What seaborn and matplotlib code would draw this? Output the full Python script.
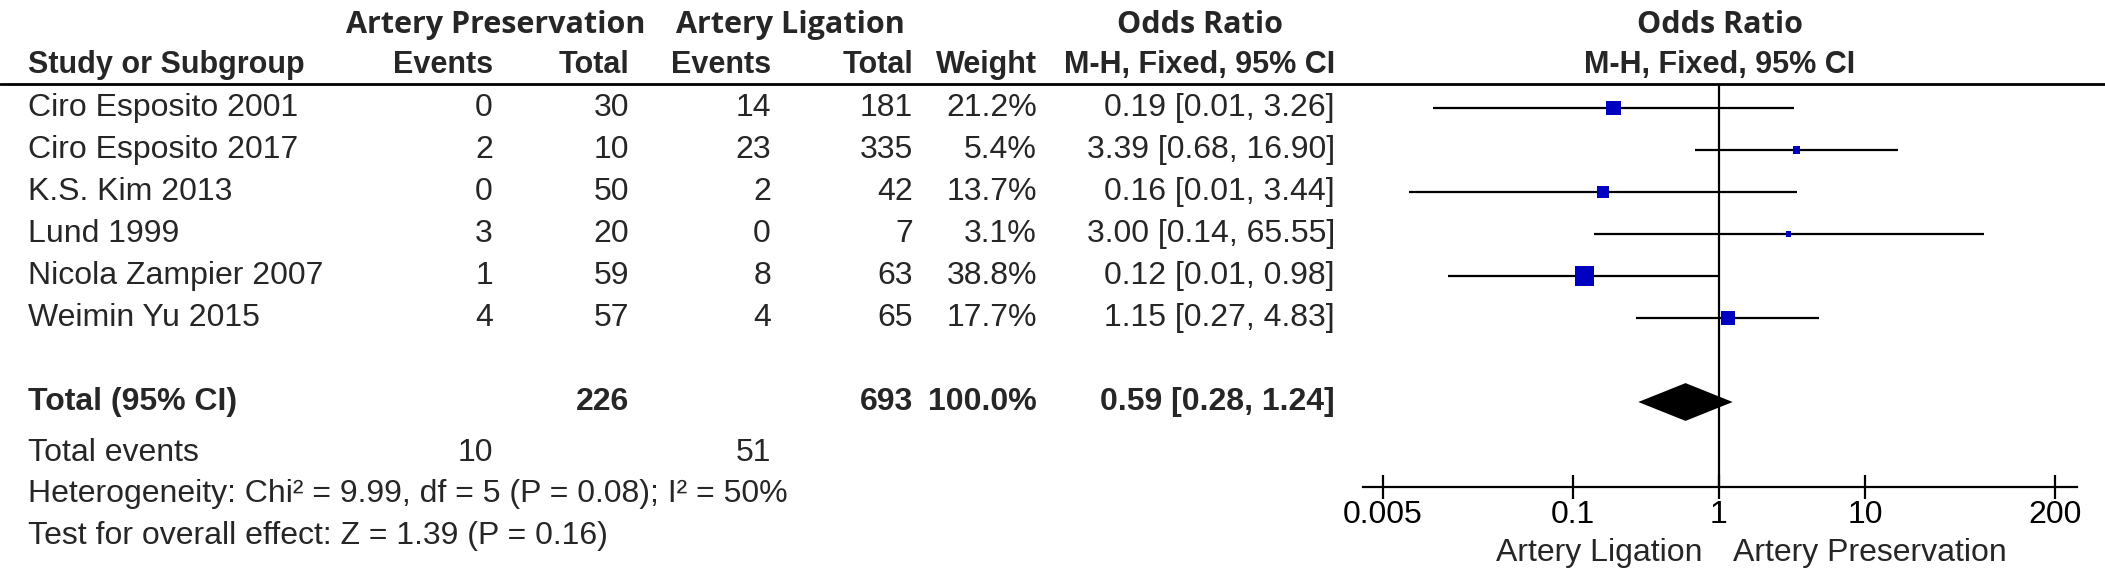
import matplotlib
matplotlib.use('Agg')  # no display
import numpy as np
import pandas as pd
import matplotlib.pyplot as plt
import seaborn as sns
from matplotlib.ticker import NullLocator, FixedLocator, FixedFormatter

# ======================
# DATA
# ======================
studies = ["Ciro Esposito 2001", "Ciro Esposito 2017", "K.S. Kim 2013",
           "Lund 1999", "Nicola Zampier 2007", "Weimin Yu 2015"]
pres_events = [0, 2, 0, 3, 1, 4]
pres_total = [30, 10, 50, 20, 59, 57]
lig_events = [14, 23, 2, 0, 8, 4]
lig_total = [181, 335, 42, 7, 63, 65]
weights = [21.2, 5.4, 13.7, 3.1, 38.8, 17.7]
odds = [0.19, 3.39, 0.16, 3.00, 0.12, 1.15]
ci_low = [0.011, 0.68, 0.0075, 0.14, 0.014, 0.27]
ci_high = [3.26, 16.90, 3.44, 65.55, 0.98, 4.83]

total_pres, total_lig = 226, 693
events_pres, events_lig = 10, 51
total_weight = 100.0
total_or, total_low, total_high = 0.59, 0.28, 1.24
heterogeneity = "Heterogeneity: Chi² = 9.99, df = 5 (P = 0.08); I² = 50%"
overall_test = "Test for overall effect: Z = 1.39 (P = 0.16)"

x_ticks = [0.005, 0.1, 1, 10, 200]
x_tick_labels = ["0.005", "0.1", "1", "10", "200"]
favours_left = "Artery Ligation"
favours_right = "Artery Preservation"

df = pd.DataFrame({"study": studies, "or": odds, "lo": ci_low, "hi": ci_high,
                   "w": weights, "row": np.arange(len(studies))})

# ======================
# STYLE
# ======================
sns.set_theme(style="white")
plt.rcParams['font.family'] = ['Liberation Sans', 'DejaVu Sans']
FS = 23
HFS = 22
BLUE = "#0000C0"
HEAD_FONT = ['Open Sans', 'DejaVu Sans']

W, H = 2105, 581
fig = plt.figure(figsize=(W / 100, H / 100), dpi=100)

# table layer in pixel coordinates
tab = fig.add_axes([0, 0, 1, 1])
tab.set_xlim(0, W)
tab.set_ylim(H, 0)
tab.axis('off')

row_y0, row_dy = 108, 42
header_y = 84
axis_y = 487
x_study, x_ev1, x_tot1, x_ev2, x_tot2, x_wt, x_ci = 28, 493, 629, 771, 913, 1037, 1335
forest_left, forest_right = 1363, 2077
tick_px_lo, tick_px_hi = 1383, 2055
x_one = 1720

# group headers
tab.text(496, 25, "Artery Preservation", ha='center', va='center', fontsize=HFS,
         fontweight='bold', family=HEAD_FONT)
tab.text(790, 25, "Artery Ligation", ha='center', va='center', fontsize=HFS,
         fontweight='bold', family=HEAD_FONT)
tab.text(1200, 25, "Odds Ratio", ha='center', va='center', fontsize=HFS,
         fontweight='bold', family=HEAD_FONT)
tab.text(x_one, 25, "Odds Ratio", ha='center', va='center', fontsize=HFS,
         fontweight='bold', family=HEAD_FONT)

# column headers
hy = 65
tab.text(x_study, hy, "Study or Subgroup", ha='left', va='center', fontsize=HFS, fontweight='bold')
for x, s in [(x_ev1, "Events"), (x_tot1, "Total"), (x_ev2, "Events"),
             (x_tot2, "Total"), (x_wt, "Weight")]:
    tab.text(x, hy, s, ha='right', va='center', fontsize=HFS, fontweight='bold')
tab.text(1200, hy, "M-H, Fixed, 95% CI", ha='center', va='center', fontsize=HFS, fontweight='bold')
tab.text(x_one, hy, "M-H, Fixed, 95% CI", ha='center', va='center', fontsize=HFS, fontweight='bold')
tab.axhline(header_y, color='black', lw=2)

# study rows
for i in range(len(studies)):
    y = row_y0 + row_dy * i
    tab.text(x_study, y, studies[i], ha='left', va='center', fontsize=FS)
    tab.text(x_ev1, y, str(pres_events[i]), ha='right', va='center', fontsize=FS)
    tab.text(x_tot1, y, str(pres_total[i]), ha='right', va='center', fontsize=FS)
    tab.text(x_ev2, y, str(lig_events[i]), ha='right', va='center', fontsize=FS)
    tab.text(x_tot2, y, str(lig_total[i]), ha='right', va='center', fontsize=FS)
    tab.text(x_wt, y, f"{weights[i]:.1f}%", ha='right', va='center', fontsize=FS)
    tab.text(x_ci, y, f"{odds[i]:.2f} [{ci_low[i]:.2f}, {ci_high[i]:.2f}]",
             ha='right', va='center', fontsize=FS)

# total row
total_row = 7
ty = row_y0 + row_dy * total_row
tab.text(x_study, ty, "Total (95% CI)", ha='left', va='center', fontsize=FS, fontweight='bold')
tab.text(x_tot1, ty, str(total_pres), ha='right', va='center', fontsize=FS, fontweight='bold')
tab.text(x_tot2, ty, str(total_lig), ha='right', va='center', fontsize=FS, fontweight='bold')
tab.text(x_wt, ty, f"{total_weight:.1f}%", ha='right', va='center', fontsize=FS, fontweight='bold')
tab.text(x_ci, ty, f"{total_or:.2f} [{total_low:.2f}, {total_high:.2f}]",
         ha='right', va='center', fontsize=FS, fontweight='bold')

tab.text(x_study, 453, "Total events", ha='left', va='center', fontsize=FS)
tab.text(x_ev1, 453, str(events_pres), ha='right', va='center', fontsize=FS)
tab.text(x_ev2, 453, str(events_lig), ha='right', va='center', fontsize=FS)
tab.text(x_study, 494, heterogeneity, ha='left', va='center', fontsize=FS)
tab.text(x_study, 536, overall_test, ha='left', va='center', fontsize=FS)

tab.text(x_one - 18, 553, favours_left, ha='right', va='center', fontsize=FS)
tab.text(x_one + 13, 553, favours_right, ha='left', va='center', fontsize=FS)

# ======================
# FOREST PLOT
# ======================
ax = fig.add_axes([forest_left / W, (H - axis_y) / H,
                   (forest_right - forest_left) / W, (axis_y - header_y) / H])
ax.patch.set_alpha(0)
ax.set_xscale('log')
px_per_dec = (tick_px_hi - tick_px_lo) / (np.log10(x_ticks[-1]) - np.log10(x_ticks[0]))
ax.set_xlim(10 ** (np.log10(x_ticks[0]) - (tick_px_lo - forest_left) / px_per_dec),
            10 ** (np.log10(x_ticks[-1]) + (forest_right - tick_px_hi) / px_per_dec))
ax.set_ylim((axis_y - row_y0) / row_dy, (header_y - row_y0) / row_dy)

ax.hlines(df['row'], df['lo'], df['hi'], color='black', lw=1.6, zorder=2)
sns.scatterplot(data=df, x='or', y='row', marker='s', color=BLUE,
                s=df['w'] * 5.2, edgecolor=BLUE, linewidth=0, ax=ax, zorder=3, legend=False)

dh = 0.45
ax.fill([total_low, total_or, total_high, total_or],
        [total_row, total_row - dh, total_row, total_row + dh],
        color='black', zorder=3, lw=0)
ax.axvline(1, color='black', lw=1.6, zorder=1)

for side in ['top', 'right', 'left']:
    ax.spines[side].set_visible(False)
ax.spines['bottom'].set_linewidth(1.6)
ax.spines['bottom'].set_color('black')
ax.xaxis.set_major_locator(FixedLocator(x_ticks))
ax.xaxis.set_major_formatter(FixedFormatter(x_tick_labels))
ax.xaxis.set_minor_locator(NullLocator())
ax.tick_params(axis='x', direction='inout', length=17, width=1.6, labelsize=FS,
               pad=1, colors='black', bottom=True)
ax.set_yticks([])
ax.set_xlabel('')
ax.set_ylabel('')

fig.savefig("out.png", dpi=100)
print("saved")
